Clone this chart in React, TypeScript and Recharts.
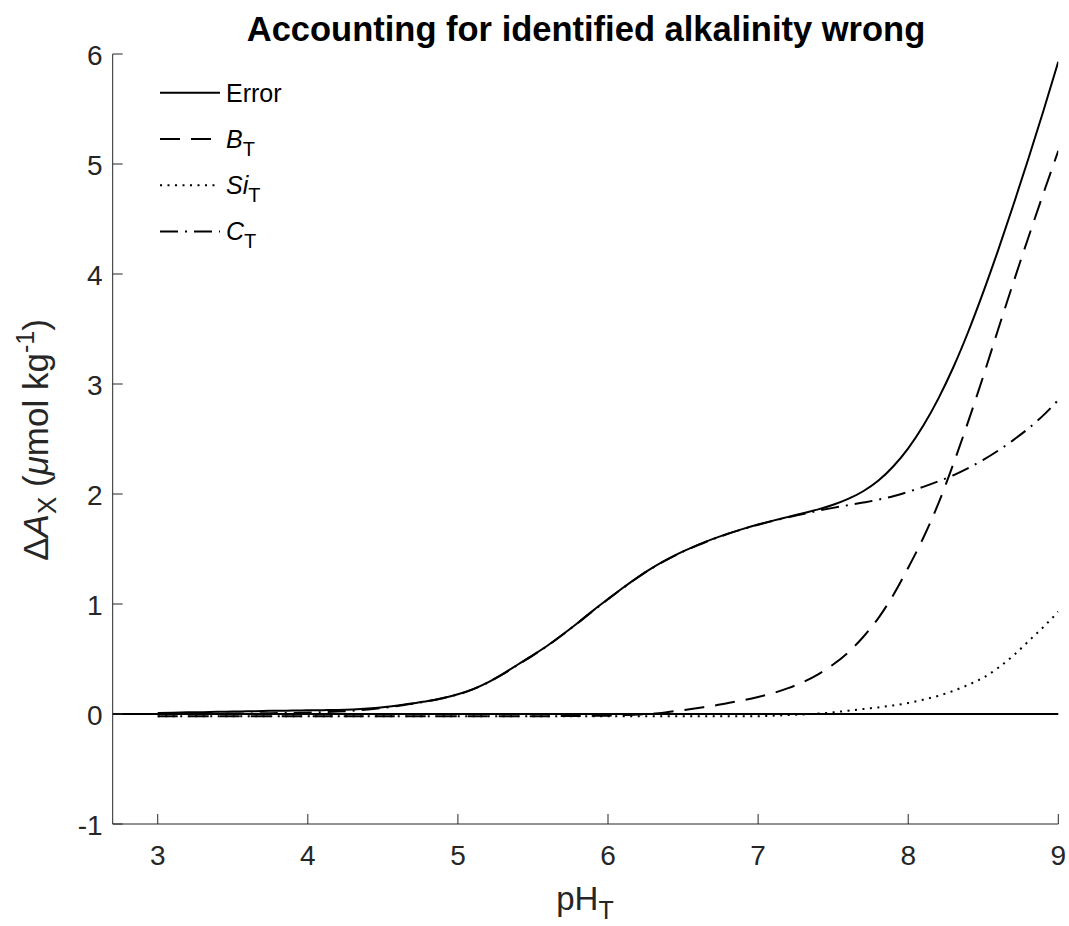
import React from 'react';
import { LineChart, Line, XAxis, YAxis, ReferenceLine } from 'recharts';

const pH = [
  3.0, 3.1, 3.2, 3.3, 3.4, 3.5, 3.6, 3.7, 3.8, 3.9,
  4.0, 4.1, 4.2, 4.3, 4.4, 4.5, 4.6, 4.7, 4.8, 4.9,
  5.0, 5.1, 5.2, 5.3, 5.4, 5.5, 5.6, 5.7, 5.8, 5.9,
  6.0, 6.1, 6.2, 6.3, 6.4, 6.5, 6.6, 6.7, 6.8, 6.9,
  7.0, 7.1, 7.2, 7.3, 7.4, 7.5, 7.6, 7.7, 7.8, 7.9,
  8.0, 8.1, 8.2, 8.3, 8.4, 8.5, 8.6, 8.7, 8.8, 8.9,
  9.0,
];

const errorVals = [
  0.010, 0.012, 0.015, 0.017, 0.020, 0.022, 0.025, 0.027, 0.030, 0.031,
  0.033, 0.035, 0.037, 0.042, 0.050, 0.062, 0.078, 0.097, 0.118, 0.146,
  0.180, 0.226, 0.288, 0.365, 0.450, 0.535, 0.625, 0.725, 0.830, 0.940,
  1.045, 1.148, 1.245, 1.333, 1.410, 1.478, 1.538, 1.592, 1.640, 1.683,
  1.722, 1.758, 1.792, 1.826, 1.860, 1.902, 1.955, 2.025, 2.120, 2.250,
  2.415, 2.620, 2.865, 3.150, 3.475, 3.835, 4.220, 4.625, 5.045, 5.480,
  5.930,
];

const btVals = [
  -0.020, -0.020, -0.020, -0.020, -0.020, -0.020, -0.020, -0.020, -0.020, -0.020,
  -0.020, -0.020, -0.020, -0.020, -0.020, -0.020, -0.020, -0.020, -0.020, -0.020,
  -0.020, -0.020, -0.020, -0.020, -0.020, -0.020, -0.020, -0.019, -0.018, -0.017,
  -0.015, -0.010, -0.005, 0.003, 0.018, 0.035, 0.055, 0.075, 0.100, 0.125,
  0.155, 0.190, 0.235, 0.290, 0.360, 0.450, 0.560, 0.700, 0.870, 1.080,
  1.330, 1.600, 1.910, 2.270, 2.660, 3.070, 3.500, 3.920, 4.330, 4.730,
  5.120,
];

const sitVals = [
  -0.020, -0.020, -0.020, -0.020, -0.020, -0.020, -0.020, -0.020, -0.020, -0.020,
  -0.020, -0.020, -0.020, -0.020, -0.020, -0.020, -0.020, -0.020, -0.020, -0.020,
  -0.020, -0.020, -0.020, -0.020, -0.020, -0.020, -0.020, -0.020, -0.020, -0.020,
  -0.020, -0.020, -0.020, -0.020, -0.020, -0.020, -0.020, -0.020, -0.020, -0.020,
  -0.020, -0.015, -0.010, -0.004, 0.004, 0.015, 0.030, 0.045, 0.060, 0.078,
  0.100, 0.130, 0.165, 0.210, 0.265, 0.330, 0.420, 0.530, 0.660, 0.790,
  0.930,
];

const ctVals = [
  0.000, 0.000, 0.001, 0.002, 0.003, 0.004, 0.005, 0.006, 0.008, 0.010,
  0.013, 0.017, 0.022, 0.030, 0.040, 0.055, 0.073, 0.094, 0.116, 0.144,
  0.178, 0.224, 0.286, 0.363, 0.448, 0.533, 0.623, 0.723, 0.828, 0.938,
  1.043, 1.146, 1.243, 1.331, 1.408, 1.476, 1.536, 1.590, 1.638, 1.681,
  1.720, 1.756, 1.788, 1.818, 1.848, 1.874, 1.898, 1.922, 1.948, 1.980,
  2.020, 2.065, 2.115, 2.170, 2.235, 2.310, 2.395, 2.490, 2.595, 2.715,
  2.855,
];

const xTicks = [3, 4, 5, 6, 7, 8, 9];
const yTicks = [-1, 0, 1, 2, 3, 4, 5, 6];

const data = pH.map((p, i) => ({
  pH: p,
  error: errorVals[i],
  bt: btVals[i],
  sit: sitVals[i],
  ct: ctVals[i],
}));

const W = 1069;
const H = 926;
const M = { top: 54, right: 10.7, left: 52.7, bottom: 42 };
const FONT = '"Liberation Sans", Arial, Helvetica, sans-serif';
const AXIS = '#262626';

const DASH = '20 11';
const DOT = '2 5.5';
const DASHDOT = '18 7 2 7';

const XTick = (props: any) => {
  const { x, y, payload } = props;
  return (
    <g>
      <line x1={x} x2={x} y1={y} y2={y - 10} stroke={AXIS} strokeWidth={1} />
      <text x={x} y={y + 40.7} textAnchor="middle" fontSize={28} fill={AXIS} fontFamily={FONT}>
        {payload.value}
      </text>
    </g>
  );
};

const YTick = (props: any) => {
  const { x, y, payload } = props;
  return (
    <g>
      <line x1={x} x2={x + 10} y1={y} y2={y} stroke={AXIS} strokeWidth={1} />
      <text x={x - 10} y={y + 10.5} textAnchor="end" fontSize={28} fill={AXIS} fontFamily={FONT}>
        {payload.value}
      </text>
    </g>
  );
};

const legendRows = [
  { key: 'error', dash: undefined as string | undefined, main: 'Error', italic: false, sub: '' },
  { key: 'bt', dash: DASH, main: 'B', italic: true, sub: 'T' },
  { key: 'sit', dash: DOT, main: 'Si', italic: true, sub: 'T' },
  { key: 'ct', dash: DASHDOT, main: 'C', italic: true, sub: 'T' },
];

export default function App() {
  return (
    <div style={{ position: 'absolute', left: 0, top: 0, width: W, height: H, overflow: 'hidden' }}>
      <style>{'.recharts-surface{overflow:visible;} .recharts-wrapper{overflow:visible;}'}</style>
      <LineChart width={W} height={H} data={data} margin={M}>
        <XAxis
          type="number"
          dataKey="pH"
          domain={[2.7, 9]}
          ticks={xTicks}
          allowDataOverflow
          height={60}
          tickSize={0}
          tickMargin={0}
          tick={<XTick />}
          axisLine={{ stroke: AXIS, strokeWidth: 1 }}
          tickLine={false}
          interval={0}
        />
        <YAxis
          type="number"
          domain={[-1, 6]}
          ticks={yTicks}
          allowDataOverflow
          width={60}
          tickSize={0}
          tickMargin={0}
          tick={<YTick />}
          axisLine={{ stroke: AXIS, strokeWidth: 1 }}
          tickLine={false}
          interval={0}
        />
        <Line type="monotone" dataKey="error" stroke="#000" strokeWidth={2} dot={false} activeDot={false} isAnimationActive={false} />
        <Line type="monotone" dataKey="bt" stroke="#000" strokeWidth={2} strokeDasharray={DASH} dot={false} activeDot={false} isAnimationActive={false} />
        <Line type="monotone" dataKey="sit" stroke="#000" strokeWidth={2} strokeDasharray={DOT} dot={false} activeDot={false} isAnimationActive={false} />
        <Line type="monotone" dataKey="ct" stroke="#000" strokeWidth={2} strokeDasharray={DASHDOT} dot={false} activeDot={false} isAnimationActive={false} />
        <ReferenceLine y={0} stroke="#000" strokeWidth={2} />
      </LineChart>
      <svg
        width={W}
        height={H}
        style={{ position: 'absolute', left: 0, top: 0, pointerEvents: 'none' }}
        fontFamily={FONT}
      >
        <text x={586} y={41} textAnchor="middle" fontSize={34.5} fontWeight="bold" fill="#000">
          Accounting for identified alkalinity wrong
        </text>
        <text x={585} y={910} textAnchor="middle" fontSize={33} fill={AXIS}>
          pH<tspan fontSize={25} dy={9}>T</tspan>
        </text>
        <text transform="translate(48,440) rotate(-90)" textAnchor="middle" fontSize={35} fill={AXIS}>
          <tspan>Δ</tspan>
          <tspan fontStyle="italic">A</tspan>
          <tspan fontSize={26} dy={8}>X</tspan>
          <tspan dy={-8}> (</tspan>
          <tspan fontStyle="italic">μ</tspan>
          <tspan>mol kg</tspan>
          <tspan fontSize={25} dy={-14}>-1</tspan>
          <tspan dy={14}>)</tspan>
        </text>
        {legendRows.map((r, i) => {
          const ly = 92.7 + i * 46.3;
          return (
            <g key={r.key}>
              <line x1={160} x2={220} y1={ly} y2={ly} stroke="#000" strokeWidth={2} strokeDasharray={r.dash} />
              <text x={226} y={ly + 8.8} fontSize={25} fill="#000">
                <tspan fontStyle={r.italic ? 'italic' : 'normal'}>{r.main}</tspan>
                {r.sub ? <tspan fontSize={20} dy={8}>{r.sub}</tspan> : null}
              </text>
            </g>
          );
        })}
      </svg>
    </div>
  );
}
